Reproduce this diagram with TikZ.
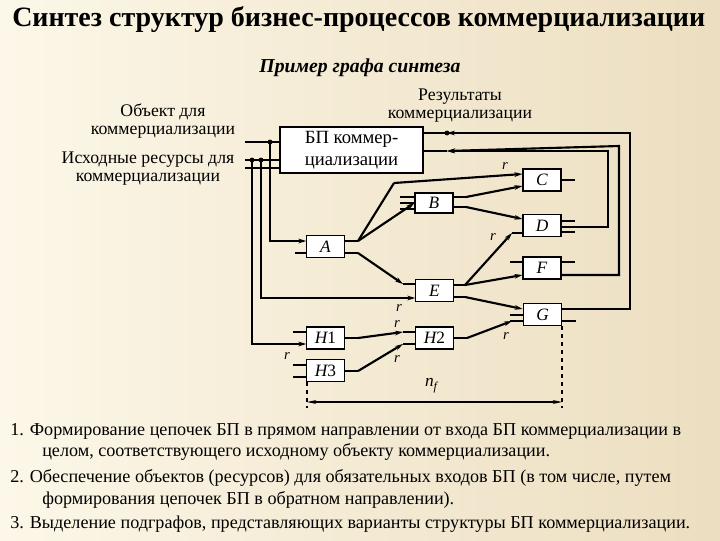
\documentclass[tikz,border=0pt]{standalone}
\usepackage{fontspec}
\setmainfont{Liberation Serif}
\usetikzlibrary{arrows.meta}
\begin{document}
\begin{tikzpicture}[x=0.75pt,y=-0.75pt,
  box/.style={draw,fill=white,line width=0.8pt,inner sep=0pt,font=\itshape\fontsize{13}{14}\selectfont},
  ln/.style={line width=0.8pt},
  tk/.style={line width=1.6pt},
  ar/.style={-{Stealth[length=6pt,width=3.5pt]}},
  dot/.style={circle,fill,inner sep=1.3pt},
  rl/.style={font=\itshape\fontsize{11}{11}\selectfont,inner sep=0pt},
  txt/.style={font=\fontsize{13.3}{13.5}\selectfont,align=center,inner sep=0pt},
  btxt/.style={anchor=west,font=\fontsize{13.6}{14}\selectfont,inner sep=0pt}]
\shade[left color={rgb,255:red,252;green,247;blue,232},right color={rgb,255:red,236;green,222;blue,192}] (0,0) rectangle (720,540);
\useasboundingbox (0,0) rectangle (720,540);
\node[anchor=west,font=\bfseries\fontsize{21}{22}\selectfont,inner sep=0pt] (title) at (12,19) {Синтез структур бизнес-процессов коммерциализации};
\node[font=\bfseries\itshape\fontsize{14.8}{16}\selectfont,inner sep=0pt] (sub) at (360,68) {Пример графа синтеза};
\node[txt] (obj) at (163,121) {Объект для\\коммерциализации};
\node[txt] (res) at (148,169) {Исходные ресурсы для\\коммерциализации};
\node[txt] (out) at (460,106) {Результаты\\коммерциализации};
% boxes
\node[box,font=\fontsize{14}{16.5}\selectfont,align=center,minimum width=107.25pt,minimum height=34.5pt] (BP) at (351.5,150) {БП коммер-\\циализации};
\node[box,minimum width=28.5pt,minimum height=16.5pt] (C) at (542,180) {C};
\node[box,minimum width=28.5pt,minimum height=15pt] (B) at (434,203) {B};
\node[box,minimum width=28.5pt,minimum height=17pt] (D) at (542,225.5) {D};
\node[box,minimum width=28pt,minimum height=16pt] (A) at (325.5,246.5) {A};
\node[box,minimum width=28.5pt,minimum height=16.5pt] (F) at (542,268) {F};
\node[box,minimum width=28pt,minimum height=17pt] (E) at (434.5,290.5) {E};
\node[box,minimum width=29pt,minimum height=17pt] (G) at (542.5,314.5) {G};
\node[box,minimum width=28pt,minimum height=16.5pt] (H1) at (325.5,338) {H\upshape 1};
\node[box,minimum width=28pt,minimum height=16.5pt] (H2) at (434.5,338) {H\upshape 2};
\node[box,minimum width=28pt,minimum height=17pt] (H3) at (325.5,370.5) {H\upshape 3};
% BP inputs
\draw[ln] (245,142) -- (280,142);
\draw[ln] (245,160) -- (280,160);
\draw[ln] (245,168) -- (280,168);
\node[dot] (j1) at (270,142) {};
\node[dot] (j2) at (252,160) {};
\node[dot] (j3) at (261,160) {};
\draw[tk,ar] (j1.center) -- (270,241) -- (A.west|-0,241);
\draw[ln,ar] (j2.center) -- (252,344) -- (H1.west|-0,344);
\draw[tk,ar] (j3.center) -- (261,298) -- (E.west|-0,298);
\draw[ln] (295,253) -- (307,253);
% BP outputs & feedback
\draw[ln] (423,133) -- (630,133);
\node[dot] (j4) at (447,133) {};
\draw[tk,ar] (G.east|-0,309) -- (630,309) -- (630,133) -- (447,133);
\draw[ln] (423,151) -- (447,151);
\draw[tk,ar] (561,275) -- (619,275) -- (619,146) -- (447,151);
\draw[tk,ar] (575,227) -- (608,227) -- (608,151) -- (447,151);
% A outputs
\draw[ln] (344,241) -- (358,241);
\draw[tk] (358,241) -- (394,183);
\draw[tk,ar] (394,183) -- (C.west|-0,174);
\draw[tk,ar] (358,241) -- (B.west|-0,203);
\draw[ln] (344,253) -- (358,253);
\draw[tk,ar] (358,253) -- (403,284);
\draw[ln] (403,284) -- (416,284);
% B
\foreach \y in {197,203,209} \draw[ln] (400,\y) -- (415,\y);
\draw[ln] (453,197) -- (466,197);
\draw[tk,ar] (466,197) -- (C.west|-0,186);
\draw[ln] (453,207) -- (466,207);
\draw[tk,ar] (466,207) -- (D.west|-0,219);
% C, D outputs
\draw[ln] (561,180) -- (575,180);
\foreach \y in {221,227,232} \draw[ln] (561,\y) -- (575,\y);
% E outputs
\draw[ln] (453,285) -- (465,285);
\draw[tk,ar] (465,285) -- (512,233);
\draw[ln] (512,233) -- (523,233);
\draw[tk,ar] (465,285) -- (F.west|-0,275);
\draw[ln] (453,297) -- (465,297);
\draw[tk,ar] (465,297) -- (G.west|-0,309);
% F
\draw[ln] (510,262) -- (523,262);
\draw[ln] (561,262) -- (575,262);
% G
\draw[ln] (510,315) -- (523,315);
\draw[ln] (562,321) -- (576,321);
% H
\draw[ln] (293,332) -- (307,332);
\draw[ln] (293,365) -- (307,365);
\draw[ln] (293,377) -- (307,377);
\draw[ln] (344,338) -- (358,338);
\draw[tk,ar] (358,338) -- (403,332);
\draw[ln] (403,332) -- (416,332);
\draw[ln] (344,371) -- (358,371);
\draw[tk,ar] (358,371) -- (403,344);
\draw[ln] (403,344) -- (416,344);
\draw[ln] (453,338) -- (467,338);
\draw[tk,ar] (467,338) -- (512,321);
\draw[ln] (510,321) -- (523,321);
% r labels
\node[rl] (r1) at (505,166) {r};
\node[rl] (r2) at (493,237) {r};
\node[rl] (r3) at (399,308) {r};
\node[rl] (r4) at (397,324) {r};
\node[rl] (r5) at (287,356) {r};
\node[rl] (r6) at (397,359) {r};
\node[rl] (r7) at (506,336) {r};
% dimension
\coordinate (d1) at (307,402);
\coordinate (d2) at (562,402);
\draw[ln,dashed] (307,382) -- (307,408);
\draw[ln,dashed] (562,326) -- (562,408);
\draw[ln,{Stealth[length=7pt,width=3pt]}-{Stealth[length=7pt,width=3pt]}] (d1) -- (d2);
\node[rl,font=\itshape\fontsize{13}{13}\selectfont] (nf) at (431,386) {n\raisebox{-3pt}{\fontsize{9}{9}\selectfont f}};
% bottom text
\node[btxt] (t1) at (10,431) {1. Формирование цепочек БП в прямом направлении от входа БП коммерциализации в};
\node[btxt] (t2) at (42,452) {целом, соответствующего исходному объекту коммерциализации.};
\node[btxt] (t3) at (10,478) {2. Обеспечение объектов (ресурсов) для обязательных входов БП (в том числе, путем};
\node[btxt] (t4) at (42,500) {формирования цепочек БП в обратном направлении).};
\node[btxt] (t5) at (10,524) {3. Выделение подграфов, представляющих варианты структуры БП коммерциализации.};
\end{tikzpicture}
\end{document}
